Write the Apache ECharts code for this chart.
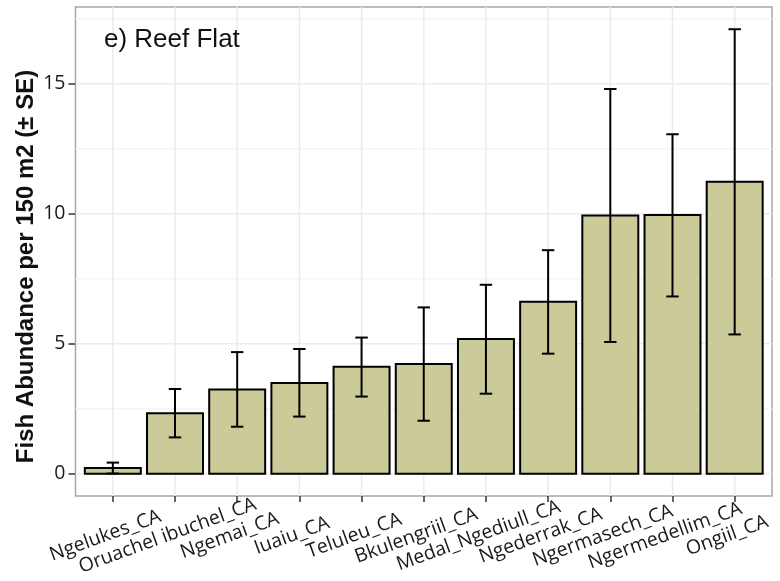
<!DOCTYPE html>
<html>
<head>
<meta charset="utf-8">
<script src="https://cdn.jsdelivr.net/npm/echarts@6/dist/echarts.min.js"></script>
<style>html,body{margin:0;padding:0;background:#fff;}#chart{width:780px;height:581px;}</style>
</head>
<body>
<div id="chart"></div>
<script>
var categories = ['Ngelukes_CA','Oruachel ibuchel_CA','Ngemai_CA','Iuaiu_CA','Teluleu_CA','Bkulengriil_CA','Medal_Ngediull_CA','Ngederrak_CA','Ngermasech_CA','Ngermedellim_CA','Ongiil_CA'];
var means = [0.22, 2.33, 3.24, 3.49, 4.12, 4.22, 5.18, 6.62, 9.93, 9.95, 11.23];
var lower = [0.01, 1.40, 1.81, 2.20, 2.97, 2.04, 3.08, 4.62, 5.07, 6.82, 5.36];
var upper = [0.43, 3.26, 4.68, 4.80, 5.24, 6.40, 7.27, 8.60, 14.80, 13.06, 17.10];
var yTicks = [0, 5, 10, 15];
var yMinorGrid = [2.5, 7.5, 12.5, 17.5];

var xIdx = categories.map(function (c, i) { return i; });
var barData = means.map(function (v, i) { return [i, v]; });
var errData = means.map(function (v, i) { return [i, lower[i], upper[i]]; });
var gridData = yTicks.map(function (v) { return [v, 1]; }).concat(yMinorGrid.map(function (v) { return [v, 0]; }));

var xMin = -0.6, xMax = categories.length - 1 + 0.6;
var yMax = upper.reduce(function (a, b) { return Math.max(a, b); }, 0);
var yMin = -0.05 * yMax, yTop = yMax * 1.05;

var chart = echarts.init(document.getElementById('chart'), null, {renderer: 'canvas'});
chart.setOption({
  backgroundColor: '#ffffff',
  animation: false,
  title: {
    text: 'e) Reef Flat', left: 99, top: 22,
    textStyle: {fontFamily: 'Liberation Sans', fontSize: 26, fontWeight: 'normal', color: '#111'}
  },
  grid: {left: 75.5, right: 8, top: 7, bottom: 85, show: true, borderColor: '#a6a6a6', borderWidth: 1.5, backgroundColor: '#fff', outerBoundsMode: 'none'},
  xAxis: {
    type: 'value', min: xMin, max: xMax,
    splitLine: {show: false},
    axisLine: {show: false, onZero: false},
    axisTick: {show: true, customValues: xIdx, length: 6, lineStyle: {color: '#333', width: 1.5}},
    axisLabel: {
      customValues: xIdx,
      formatter: function (v) { return categories[Math.round(v)]; },
      rotate: 20, align: 'center', verticalAlign: 'middle', margin: 37,
      padding: [0, 16, 0, 0],
      fontFamily: 'Open Sans', fontSize: 19.5, color: '#1a1a1a'
    }
  },
  yAxis: {
    type: 'value', min: yMin, max: yTop,
    splitLine: {show: false},
    axisLine: {show: false, onZero: false},
    axisTick: {show: true, customValues: yTicks, length: 7, lineStyle: {color: '#333', width: 1.5}},
    axisLabel: {customValues: yTicks, margin: 10, fontFamily: 'Open Sans', fontSize: 19.5, color: '#1a1a1a'},
    name: 'Fish Abundance per 150 m2 (\u00b1 SE)',
    nameLocation: 'middle', nameGap: 37, nameMoveOverlap: false,
    nameTextStyle: {fontFamily: 'Liberation Sans', fontSize: 24, fontWeight: 'bold', color: '#111', padding: [0, 30, 0, 0]}
  },
  series: [
    {
      type: 'custom', z: 1, silent: true, clip: true,
      data: gridData,
      renderItem: function (params, api) {
        var v = api.value(0), major = api.value(1);
        var p1 = api.coord([xMin, v]), p2 = api.coord([xMax, v]);
        return {type: 'line', shape: {x1: p1[0], y1: p1[1], x2: p2[0], y2: p2[1]},
          style: {stroke: major ? '#ebebeb' : '#f5f5f5', lineWidth: 1.5}};
      }
    },
    {
      type: 'custom', z: 1, silent: true, clip: true,
      data: xIdx.map(function (i) { return [i]; }),
      renderItem: function (params, api) {
        var i = api.value(0);
        var p1 = api.coord([i, yMin]), p2 = api.coord([i, yTop]);
        return {type: 'line', shape: {x1: p1[0], y1: p1[1], x2: p2[0], y2: p2[1]},
          style: {stroke: '#ebebeb', lineWidth: 1.5}};
      }
    },
    {
      type: 'custom', z: 2, silent: true,
      data: barData,
      renderItem: function (params, api) {
        var i = api.value(0), v = api.value(1);
        var a = api.coord([i - 0.45, v]), b = api.coord([i + 0.45, 0]);
        return {type: 'rect', shape: {x: a[0], y: a[1], width: b[0] - a[0], height: b[1] - a[1]},
          style: {fill: '#cacb98', stroke: '#000', lineWidth: 2}};
      }
    },
    {
      type: 'custom', z: 3, silent: true,
      data: errData,
      renderItem: function (params, api) {
        var i = api.value(0), lo = api.value(1), hi = api.value(2);
        var pl = api.coord([i, lo]), ph = api.coord([i, hi]);
        var cl = api.coord([i - 0.1, lo]), cr = api.coord([i + 0.1, lo]);
        var hl = api.coord([i - 0.1, hi]), hr = api.coord([i + 0.1, hi]);
        var st = {stroke: '#000', lineWidth: 2};
        return {type: 'group', children: [
          {type: 'line', shape: {x1: pl[0], y1: pl[1], x2: ph[0], y2: ph[1]}, style: st},
          {type: 'line', shape: {x1: cl[0], y1: cl[1], x2: cr[0], y2: cr[1]}, style: st},
          {type: 'line', shape: {x1: hl[0], y1: hl[1], x2: hr[0], y2: hr[1]}, style: st}
        ]};
      }
    }
  ]
});
</script>
</body>
</html>
